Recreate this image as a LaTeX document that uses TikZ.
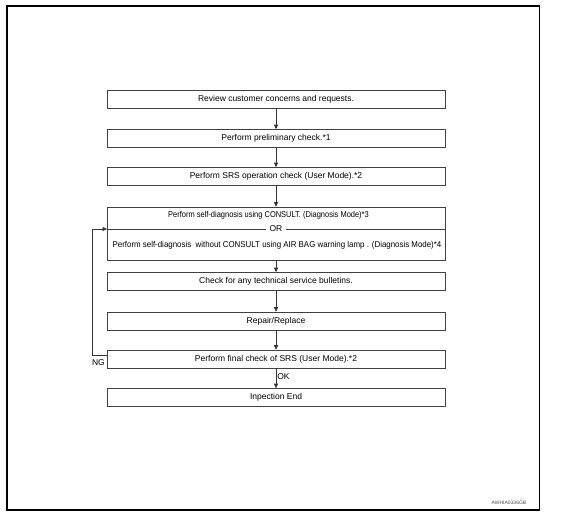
\documentclass[tikz,border=0pt]{standalone}
\usepackage{fontspec}
\setmainfont{Liberation Sans}
\usetikzlibrary{arrows.meta}
\begin{document}
\begin{tikzpicture}[x=1pt,y=-1pt,
  stepbox/.style={draw=black!75,line width=0.6pt,minimum width=338pt,minimum height=18pt,inner sep=0pt,font=\fontsize{8.5}{10}\selectfont},
  flow/.style={draw=black!80,line width=0.6pt,-{Triangle[length=4.5pt,width=4pt]}},
  lbl/.style={font=\fontsize{8.5}{10}\selectfont,inner sep=1pt}]
\useasboundingbox (0,0) rectangle (577,519);
\draw[line width=1.2pt] (7,6) rectangle (539.5,510);
\node[stepbox] (b1) at (276,99) {Review customer concerns and requests.};
\node[stepbox] (b2) at (276,138.5) {Perform preliminary check.*1};
\node[stepbox] (b3) at (276,176.5) {Perform SRS operation check (User Mode).*2};
\node[stepbox,minimum height=53pt] (b4) at (276,233.5) {};
\node[lbl] (t41) at (268.5,215.5) {\scalebox{0.88}[1]{Perform self-diagnosis using CONSULT. (Diagnosis Mode)*3}};
\node[lbl,fill=white,inner xsep=3pt] (or) at (276,229) {OR};
\node[lbl] (t43) at (277,245.5) {\scalebox{0.93}[1]{Perform self-diagnosis\ \ without CONSULT using AIR BAG warning lamp . (Diagnosis Mode)*4}};
\coordinate (orl) at (107,229);
\coordinate (orr) at (445,229);
\draw[draw=black!75,line width=0.5pt] (orl) -- (or.west) (or.east) -- (orr);
\node[stepbox] (b5) at (276,281.5) {Check for any technical service bulletins.};
\node[stepbox] (b6) at (276,321) {Repair/Replace};
\node[stepbox] (b7) at (276,359) {Perform final check of SRS (User Mode).*2};
\node[stepbox] (b8) at (276,397.5) {Inpection End};
\draw[flow] (b1) -- (b2);
\draw[flow] (b2) -- (b3);
\draw[flow] (b3) -- (b4);
\draw[flow] (b4) -- (b5);
\draw[flow] (b5) -- (b6);
\draw[flow] (b6) -- (b7);
\draw[flow] (b7) -- node[lbl,right,pos=0.42] {OK} (b8);
\coordinate (fb1) at (92,355);
\coordinate (fb2) at (92,229);
\draw[flow] (b7.west |- fb1) -- (fb1) -- (fb2) -- (orl);
\node[lbl,anchor=east] (ng) at (106,363) {NG};
\node[font=\fontsize{5}{6}\selectfont,inner sep=0pt,text=black!70] (code) at (509,503) {AWHIA0336GB};
\end{tikzpicture}
\end{document}
